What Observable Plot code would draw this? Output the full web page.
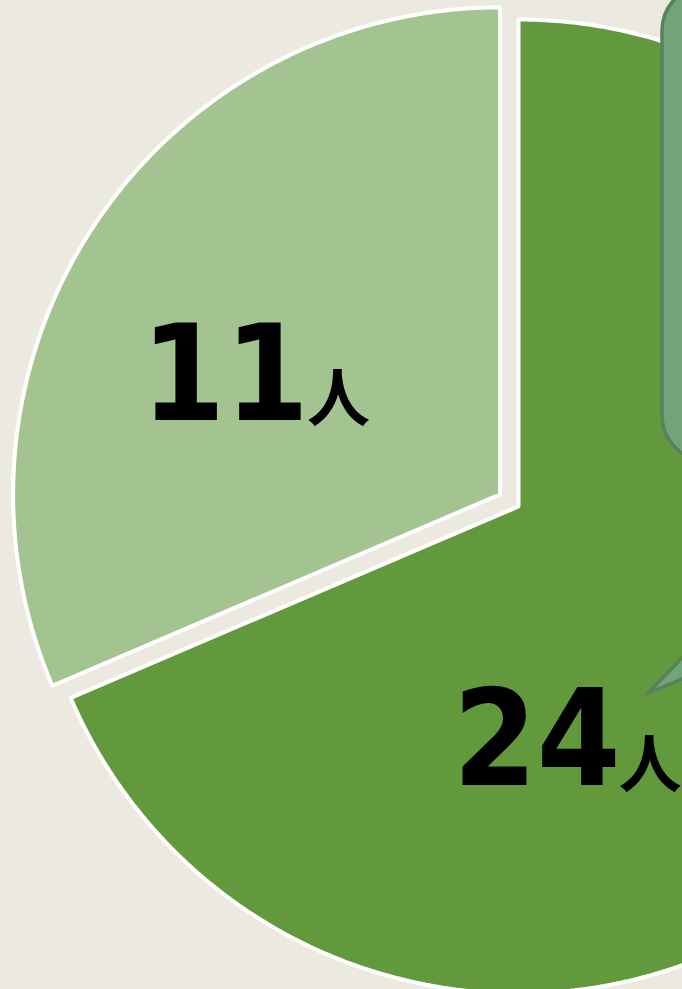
<!DOCTYPE html>
<html><head><meta charset="utf-8">
<script src="https://cdn.jsdelivr.net/npm/d3@7"></script>
<script src="https://cdn.jsdelivr.net/npm/@observablehq/plot@0.6"></script>
<style>
html,body{margin:0;padding:0;background:#ebe9e0;overflow:hidden}
#chart svg{display:block}
</style></head><body><div id="chart"></div>
<script>
// ---- data ----
const categories = ["24人", "11人"];
const counts = [24, 11];
const numberLabels = ["24", "11"];
const unitLabel = "人";
const sliceColors = ["#63993d", "#a3c490"];
const explodedCategory = "11人";

// ---- layout ----
const W = 682, H = 989;
const cx = 518, cy = 506;     // pie centre inside the (cropped) frame
const R = 487;                // pie radius
const explode = 22;           // offset of the exploded slice
const labelR = 0.5 * R;

const rows = categories.map((c, i) => ({category: c, value: counts[i], num: numberLabels[i], color: sliceColors[i]}));
const arcs = d3.pie().sort(null).value(d => d.value)(rows);

const pts = [];
const labels = [];
arcs.forEach(a => {
  const mid = (a.startAngle + a.endAngle) / 2;
  const off = a.data.category === explodedCategory ? explode : 0;
  const ox = off * Math.sin(mid), oy = -off * Math.cos(mid);
  pts.push({slice: a.data.category, color: a.data.color, x: ox, y: oy});
  const steps = Math.ceil((a.endAngle - a.startAngle) / (Math.PI / 360));
  for (let k = 0; k <= steps; k++) {
    const t = a.startAngle + (a.endAngle - a.startAngle) * k / steps;
    pts.push({slice: a.data.category, color: a.data.color, x: ox + R * Math.sin(t), y: oy - R * Math.cos(t)});
  }
  labels.push({slice: a.data.category, num: a.data.num, unit: unitLabel,
    x: ox + labelR * Math.sin(mid), y: oy - labelR * Math.cos(mid)});
});

// decorative speech-bubble (cropped at frame edge), relative to pie centre
const calloutBox = [{x1: 144, x2: 230, y1: -520, y2: -46}];
const calloutTail = [{x: 129, y: 187}, {x: 250, y: 62}, {x: 250, y: 136}];

const numFont = "'DejaVu Sans Condensed', 'DejaVu Sans', sans-serif";
const cjkFont = "'Noto Sans CJK JP', sans-serif";

const lab = s => labels.filter(d => d.slice === s);

const chart = Plot.plot({
  width: W, height: H,
  margin: 0,
  style: {background: "#ebe9e0", overflow: "hidden"},
  x: {domain: [-cx, W - cx], range: [0, W], axis: null},
  y: {domain: [-cy, H - cy], range: [0, H], axis: null},
  marks: [
    Plot.line(pts, {x: "x", y: "y", z: "slice", fill: "color", stroke: "white",
      strokeWidth: 4, strokeLinejoin: "miter", curve: "linear-closed"}),
    Plot.line(calloutTail, {x: "x", y: "y", fill: "#72a47a", stroke: "#5a805c",
      strokeWidth: 3.5, strokeLinejoin: "round", curve: "linear-closed"}),
    Plot.rect(calloutBox, {x1: "x1", x2: "x2", y1: "y1", y2: "y2", rx: 45,
      fill: "#72a47a", stroke: "#5a805c", strokeWidth: 3.5}),
    // 11人
    Plot.text(lab("11人"), {x: "x", y: "y", text: "num", textAnchor: "end", lineAnchor: "bottom",
      fontSize: 134, fontWeight: "bold", fontFamily: numFont, fill: "black", dx: 12, dy: 60}),
    Plot.text(lab("11人"), {x: "x", y: "y", text: "unit", textAnchor: "start", lineAnchor: "bottom",
      fontSize: 63, fontWeight: "bold", fontFamily: cjkFont, fill: "black", dx: 10, dy: 61}),
    // 24人
    Plot.text(lab("24人"), {x: "x", y: "y", text: "num", textAnchor: "end", lineAnchor: "bottom",
      fontSize: 134, fontWeight: "bold", fontFamily: numFont, fill: "black", dx: -101, dy: 144}),
    Plot.text(lab("24人"), {x: "x", y: "y", text: "unit", textAnchor: "start", lineAnchor: "bottom",
      fontSize: 63, fontWeight: "bold", fontFamily: cjkFont, fill: "black", dx: -103, dy: 146})
  ]
});
document.getElementById("chart").append(chart);
</script>
</body></html>
